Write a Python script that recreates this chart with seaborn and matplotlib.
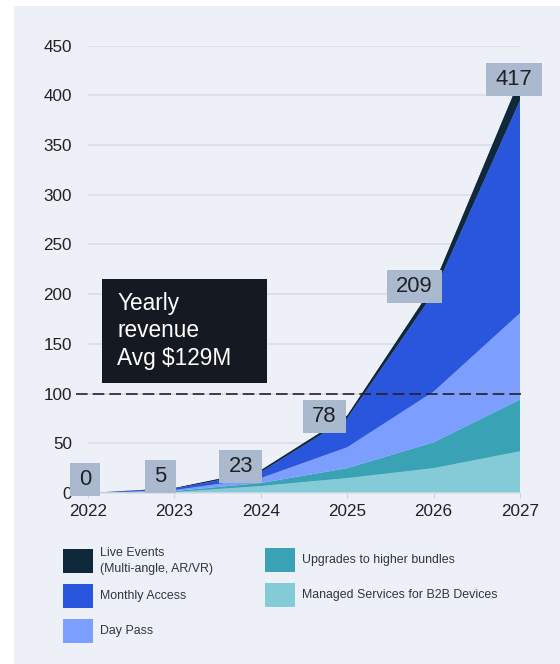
import numpy as np
import pandas as pd
import matplotlib
matplotlib.use("Agg")
import matplotlib.pyplot as plt
from matplotlib.path import Path
from matplotlib.patches import Rectangle
import seaborn as sns
import seaborn.objects as so

# Yearly revenue per segment ($M)
years = [2022, 2023, 2024, 2025, 2026, 2027]
managed_services = [0, 1.0, 7, 15, 25, 42]
upgrades = [0, 1.0, 3, 10, 26, 52]
day_pass = [0, 1.0, 5, 21, 51, 87]
monthly_access = [0, 1.5, 6, 29, 99, 214]
live_events = [0, 0.5, 2, 3, 8, 22]
totals = [0, 5, 23, 78, 209, 417]
average_revenue = 129
reference_level = 100
y_ticks = [0, 50, 100, 150, 200, 250, 300, 350, 400, 450]

# stacking order, bottom to top
segment_names = [
    "Managed Services for B2B Devices",
    "Upgrades to higher bundles",
    "Day Pass",
    "Monthly Access",
    "Live Events\n(Multi-angle, AR/VR)",
]
segment_values = [managed_services, upgrades, day_pass, monthly_access, live_events]
palette = {
    "Managed Services for B2B Devices": "#84cbd7",
    "Upgrades to higher bundles": "#39a3b5",
    "Day Pass": "#7c9fff",
    "Monthly Access": "#2a55dd",
    "Live Events\n(Multi-angle, AR/VR)": "#0f283c",
}

PANEL = "#edf0f6"
GRID = "#d6dce7"
INK = "#1e2226"

sns.set_theme(style="white")
plt.rcParams["font.family"] = ["Liberation Sans", "DejaVu Sans"]

records = [
    (year, name, vals[i])
    for i, year in enumerate(years)
    for name, vals in zip(segment_names, segment_values)
]
df = pd.DataFrame(records, columns=["year", "segment", "revenue"])

W, H, DPI = 560, 664, 100
fig = plt.figure(figsize=(W / DPI, H / DPI), dpi=DPI, facecolor="white")
fig.add_artist(Rectangle((14 / W, 0), 1 - 14 / W, 1 - 6 / H,
                         transform=fig.transFigure, fc=PANEL, ec="none", zorder=-1))

ax = fig.add_axes([88 / W, 1 - 493 / H, 432 / W, (493 - 45.7) / H])
ax.set_facecolor("none")

theme_rc = {**sns.axes_style("white"), "font.family": ["Liberation Sans", "DejaVu Sans"],
            "axes.facecolor": "none"}
(
    so.Plot(df, x="year", y="revenue", color="segment")
    .add(so.Area(alpha=1, edgewidth=0.3), so.Stack(), legend=False)
    .scale(color=so.Nominal(palette, order=segment_names))
    .limit(x=(years[0], years[-1]), y=(0, y_ticks[-1]))
    .theme(theme_rc)
    .on(ax)
    .plot()
)

ax.set_facecolor("none")
ax.set_xlabel("")
ax.set_ylabel("")
ax.set_xlim(years[0], years[-1])
ax.set_ylim(0, y_ticks[-1])
ax.set_xticks(years)
ax.set_xticklabels([str(y) for y in years])
ax.set_yticks(y_ticks)
ax.set_yticklabels([str(v) for v in y_ticks])
ax.tick_params(axis="y", length=0, pad=11.5, labelsize=12.3, labelcolor=INK)
ax.tick_params(axis="x", length=3.6, width=0.8, color="#cdd4df", pad=4,
               labelsize=12.3, labelcolor=INK, bottom=True)
ax.xaxis.grid(False)
ax.yaxis.grid(True, color=GRID, linewidth=1.1)
ax.set_axisbelow(True)
for side in ["top", "right", "left"]:
    ax.spines[side].set_visible(False)
ax.spines["bottom"].set_color(GRID)
ax.spines["bottom"].set_linewidth(1.1)

# dashed reference level
ax.axhline(reference_level, xmin=-0.028, xmax=1.012, clip_on=False,
           color="#222222", linewidth=1.2, dashes=(7, 3), zorder=4)


def tag_box(x0, y0, width, height, mutation_size):
    padx, pady = 0.42 * mutation_size, 0.27 * mutation_size
    x0, y0 = x0 - padx, y0 - pady
    x1, y1 = x0 + width + 2 * padx, y0 + height + 2 * pady
    return Path([(x0, y0), (x1, y0), (x1, y1), (x0, y1), (x0, y0)], closed=True)


# total labels
label_dx = [-3, -14, -20, -23, -19, -6]
for year, total, dx in zip(years, totals, label_dx):
    y_pos = max(total, 15 + 0.55 * total)
    ax.annotate(f"{total:g}", xy=(year, y_pos), xytext=(dx, -1),
                textcoords="offset pixels", ha="center", va="center",
                fontsize=15.8, color=INK, zorder=6, annotation_clip=False,
                bbox=dict(boxstyle=tag_box, fc="#abb9cf", ec="none"))

# average revenue callout
ax.add_patch(Rectangle((2022.16, 111), 1.91, 104.4, fc="#151a22", ec="none", zorder=5))
ax.text(2022.34, 163, f"Yearly\nrevenue\nAvg ${average_revenue}M", color="white",
        fontsize=16.3, ha="left", va="center", linespacing=1.25, zorder=6)

# legend, two columns
legend_columns = [
    (63, 100, [4, 3, 2], [561, 596, 631]),
    (265, 302, [1, 0], [560, 595]),
]
for x_sw, x_txt, idxs, centers in legend_columns:
    for idx, cy in zip(idxs, centers):
        name = segment_names[idx]
        fig.add_artist(Rectangle((x_sw / W, 1 - (cy + 12) / H), 30 / W, 24 / H,
                                 transform=fig.transFigure, fc=palette[name], ec="none"))
        fig.text(x_txt / W, 1 - cy / H, name, ha="left", va="center",
                 fontsize=8.9, color="#2e3642", linespacing=1.5)

fig.savefig("out.png", dpi=DPI, facecolor="white")
